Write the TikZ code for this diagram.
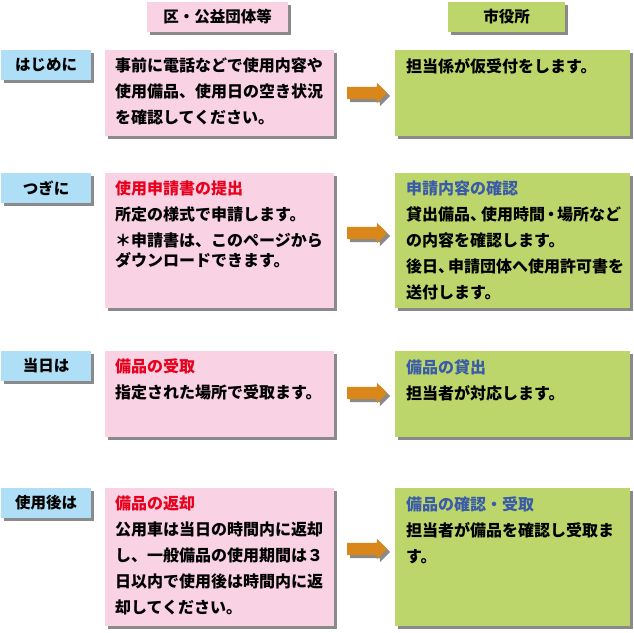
\documentclass[tikz,border=0pt]{standalone}
\usepackage{fontspec}
\setmainfont{Noto Sans CJK JP}
\usetikzlibrary{shapes.arrows,shadows,calc}
\definecolor{kupink}{HTML}{F9D2E4}
\definecolor{shigreen}{HTML}{BDD66B}
\definecolor{labblue}{HTML}{AEDFF7}
\definecolor{arrorange}{HTML}{D9861A}
\definecolor{shadowgray}{HTML}{8A8A8A}
\definecolor{titlered}{HTML}{E8001C}
\definecolor{titleblue}{HTML}{3A5BA8}

\begin{document}
\begin{tikzpicture}[x=1pt,y=-1pt,
		box/.style={anchor=north west,inner sep=0,outer sep=0,
			drop shadow={shadow xshift=3pt,shadow yshift=-3pt,fill=shadowgray,opacity=1}},
		kubox/.style={box,fill=kupink,minimum width=229pt},
		shibox/.style={box,fill=shigreen,minimum width=235pt},
		labbox/.style={box,fill=labblue,minimum width=90pt,minimum height=30pt,
			font=\fontsize{15.5}{20}\selectfont\bfseries},
		txt/.style={anchor=north west,inner sep=0,align=left,
			font=\fontsize{16}{26}\selectfont\bfseries},
		fat/.style={single arrow,fill=arrorange,inner sep=6pt,minimum height=40pt,
			single arrow head extend=4pt,
			drop shadow={shadow xshift=3pt,shadow yshift=-3pt,fill=shadowgray,opacity=1}}]
		\useasboundingbox (0,0) rectangle (634,632);

		\node[box,fill=kupink,minimum width=141pt,minimum height=30pt,
			font=\fontsize{15.5}{20}\selectfont\bfseries] (head1) at (147,2) {区・公益団体等};
		\node[box,fill=shigreen,minimum width=117pt,minimum height=30pt,
			font=\fontsize{15.5}{20}\selectfont\bfseries] (head2) at (448,2) {市役所};

		\node[labbox] (lab1) at (1,50) {はじめに};
		\node[labbox] (lab2) at (1,173) {つぎに};
		\node[labbox] (lab3) at (1,351) {当日は};
		\node[labbox] (lab4) at (1,488) {使用後は};

		\node[kubox,minimum height=86pt] (ku1) at (105,50) {};
		\node[kubox,minimum height=135pt] (ku2) at (105,173) {};
		\node[kubox,minimum height=86pt] (ku3) at (105,351) {};
		\node[kubox,minimum height=138pt] (ku4) at (105,488) {};

		\node[shibox,minimum height=86pt] (shi1) at (395,50) {};
		\node[shibox,minimum height=135pt] (shi2) at (395,173) {};
		\node[shibox,minimum height=86pt] (shi3) at (395,351) {};
		\node[shibox,minimum height=138pt] (shi4) at (395,488) {};

		\node[fat] (arr1) at (364,93) {};
		\node[fat] (arr2) at (364,233) {};
		\node[fat] (arr3) at (364,393) {};
		\node[fat] (arr4) at (364,549) {};

		\node[txt] (kutxt1) at ($(ku1.north west)+(10,8)$) {事前に電話などで使用内容や\\使用備品、使用日の空き状況\\を確認してください。};
		\node[txt] (kutxt2) at ($(ku2.north west)+(10,8)$) {\textcolor{titlered}{使用申請書の提出}\\所定の様式で申請します。\\＊申請書は、このページから\\[-6pt]ダウンロードできます。};
		\node[txt] (kutxt3) at ($(ku3.north west)+(10,8)$) {\textcolor{titlered}{備品の受取}\\指定された場所で受取ます。};
		\node[txt] (kutxt4) at ($(ku4.north west)+(10,8)$) {\textcolor{titlered}{備品の返却}\\公用車は当日の時間内に返却\\し、一般備品の使用期間は３\\日以内で使用後は時間内に返\\却してください。};

		\node[txt] (shitxt1) at ($(shi1.north west)+(11,8)$) {担当係が仮受付をします。};
		\node[txt] (shitxt2) at ($(shi2.north west)+(11,8)$) {\textcolor{titleblue}{申請内容の確認}\\貸出備品、\hspace{-5pt}使用時間\hspace{-2pt}・\hspace{-2pt}場所など\\の内容を確認します。\\後日、\hspace{-6pt}申請団体へ使用許可書を\\送付します。};
		\node[txt] (shitxt3) at ($(shi3.north west)+(11,8)$) {\textcolor{titleblue}{備品の貸出}\\担当者が対応します。};
		\node[txt] (shitxt4) at ($(shi4.north west)+(11,8)$) {\textcolor{titleblue}{備品の確認・受取}\\担当者が備品を確認し受取ま\\す。};
	\end{tikzpicture}
\end{document}
